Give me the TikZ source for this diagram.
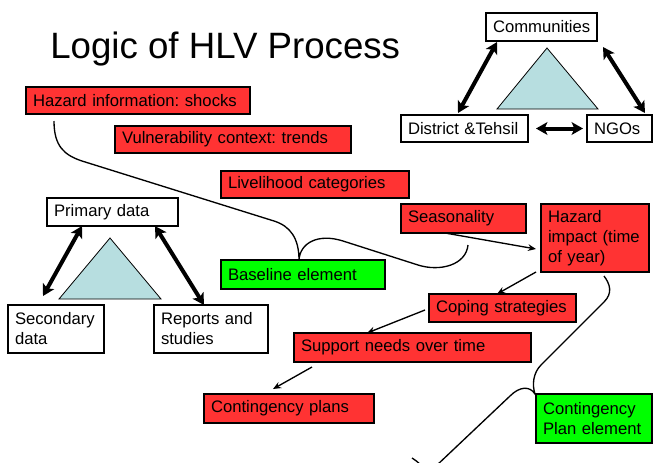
\documentclass[tikz,border=0pt]{standalone}
\usepackage{fontspec}
\setmainfont{Liberation Sans}
\usetikzlibrary{arrows.meta,calc}
\frenchspacing

\definecolor{hlvred}{HTML}{FF3333}
\definecolor{hlvgreen}{HTML}{00FF00}
\definecolor{hlvtri}{HTML}{B7DEE0}

% boxed label: name, style, x, y (top-left corner), width, height, text
\newcommand\hlvbox[7]{%
  \pgfmathsetmacro\hlvtw{(#5-14)*0.75}%
  \pgfmathsetmacro\hlvht{#6*0.75}%
  \node[#2, text width=\hlvtw pt, minimum height=\hlvht pt] (#1) at (#3,#4) {#7};%
}

\tikzset{
  basebox/.style={draw=black, line width=0.9pt, anchor=north west, outer sep=0pt,
    inner xsep=5.25pt, inner ysep=0pt, align=left,
    font=\fontsize{12.5pt}{15pt}\selectfont},
  whitebox/.style={basebox, fill=white},
  redbox/.style={basebox, fill=hlvred},
  greenbox/.style={basebox, fill=hlvgreen},
  tri/.style={draw=black, line width=0.6pt, fill=hlvtri},
  bigarrow/.style={line width=3pt,
    {Stealth[length=8.5pt,width=9.5pt,inset=2pt]}-{Stealth[length=8.5pt,width=9.5pt,inset=2pt]}},
  flow/.style={line width=1pt, -{Stealth[length=6pt,width=5pt]}},
  brace/.style={line width=1pt},
}

\begin{document}
\begin{tikzpicture}[x=0.75pt, y=-0.75pt]
\useasboundingbox (0,0) rectangle (653,462);

% title
\node[anchor=base west, inner sep=0pt, font=\fontsize{27.5pt}{33pt}\selectfont]
  (title) at (50,58) {Logic of HLV Process};

% triangles behind the data-source and partner groups
\draw[tri] (547,48) -- (598,109) -- (497,109) -- cycle;
\draw[tri] (110,238) -- (161,299) -- (59,299) -- cycle;

% partner triangle
\hlvbox{com}{whitebox}{486}{13}{111}{28}{Communities}
\hlvbox{dis}{whitebox}{401}{115}{127}{27}{District \&Tehsil}
\hlvbox{ngo}{whitebox}{587}{115}{65}{27}{NGOs}

% data-source triangle
\hlvbox{pri}{whitebox}{47}{198}{131}{28}{Primary data}
\hlvbox{sec}{whitebox}{8}{305}{96}{48}{Secondary\\data}
\hlvbox{rep}{whitebox}{154}{305}{114}{48}{Reports and\\studies}

% process steps
\hlvbox{haz}{redbox}{26}{87}{224}{27}{Hazard information: shocks}
\hlvbox{vul}{redbox}{115}{126}{236}{27}{Vulnerability context: trends}
\hlvbox{liv}{redbox}{221}{171}{188}{27}{Livelihood categories}
\hlvbox{sea}{redbox}{401}{204}{125}{29}{Seasonality}
\hlvbox{imp}{redbox}{541}{204}{108}{68}{Hazard\\impact (time\\of year)}
\hlvbox{cop}{redbox}{429}{294}{147}{28}{Coping strategies}
\hlvbox{sup}{redbox}{294}{333}{237}{29}{Support needs over time}
\hlvbox{con}{redbox}{204}{394}{170}{29}{Contingency plans}

% elements
\hlvbox{bas}{greenbox}{221}{260}{164}{29}{Baseline element}
\hlvbox{cpe}{greenbox}{536}{394}{116}{49}{Contingency\\Plan element}

% two-way links
\draw[bigarrow] ($(com.south west)+(11,1)$) -- ($(dis.north west)+(57,-2)$);
\draw[bigarrow] ($(com.south east)+(6,6)$) -- ($(ngo.north east)+(-7,-2)$);
\draw[bigarrow] ($(dis.east)+(8,0)$) -- ($(ngo.west)+(-4,0)$);
\draw[bigarrow] ($(pri.south west)+(35,0)$) -- ($(sec.north west)+(35,-9)$);
\draw[bigarrow] ($(pri.south west)+(108,0)$) -- ($(rep.north west)+(50,0)$);

% flow between steps
\draw[flow] ($(sea.south west)+(44,0)$) -- ($(imp.west)+(-5,11)$);
\draw[flow] ($(imp.south west)+(-5,0)$) -- ($(cop.north west)+(68,0)$);
\draw[flow] ($(cop.west)+(-4,2)$) -- ($(sup.north west)+(73,0)$);
\draw[flow] ($(sup.south west)+(18,5)$) -- ($(con.north west)+(69,-5)$);

% brace grouping the steps into the baseline element
\draw[brace] ($(haz.south west)+(28,7)$)
  .. controls (54,146) and (64,155) .. (82,161)
  -- (274,221)
  .. controls (290,226) and (299,238) .. ($(bas.north west)+(78,0)$)
  .. controls (300,243) and (318,233) .. (343,241)
  -- (418,265)
  .. controls (440,272) and (466,265) .. ($(sea.south west)+(67,12)$);

% brace grouping the steps into the contingency plan element
\begin{scope}
\clip (0,0) rectangle (653,462);
\coordinate (cpEnd) at (412,458);
\draw[brace] ($(imp.south west)+(63,4)$)
  .. controls (610,284) and (613,293) .. (604,302)
  -- (541,365)
  .. controls (533,373) and (532,385) .. ($(cpe.north west)+(-1,0)$)
  .. controls (530,386) and (520,386) .. (510,396)
  -- (436,466)
  .. controls (426,476) and (424,465) .. (cpEnd);
\end{scope}
\end{tikzpicture}
\end{document}
